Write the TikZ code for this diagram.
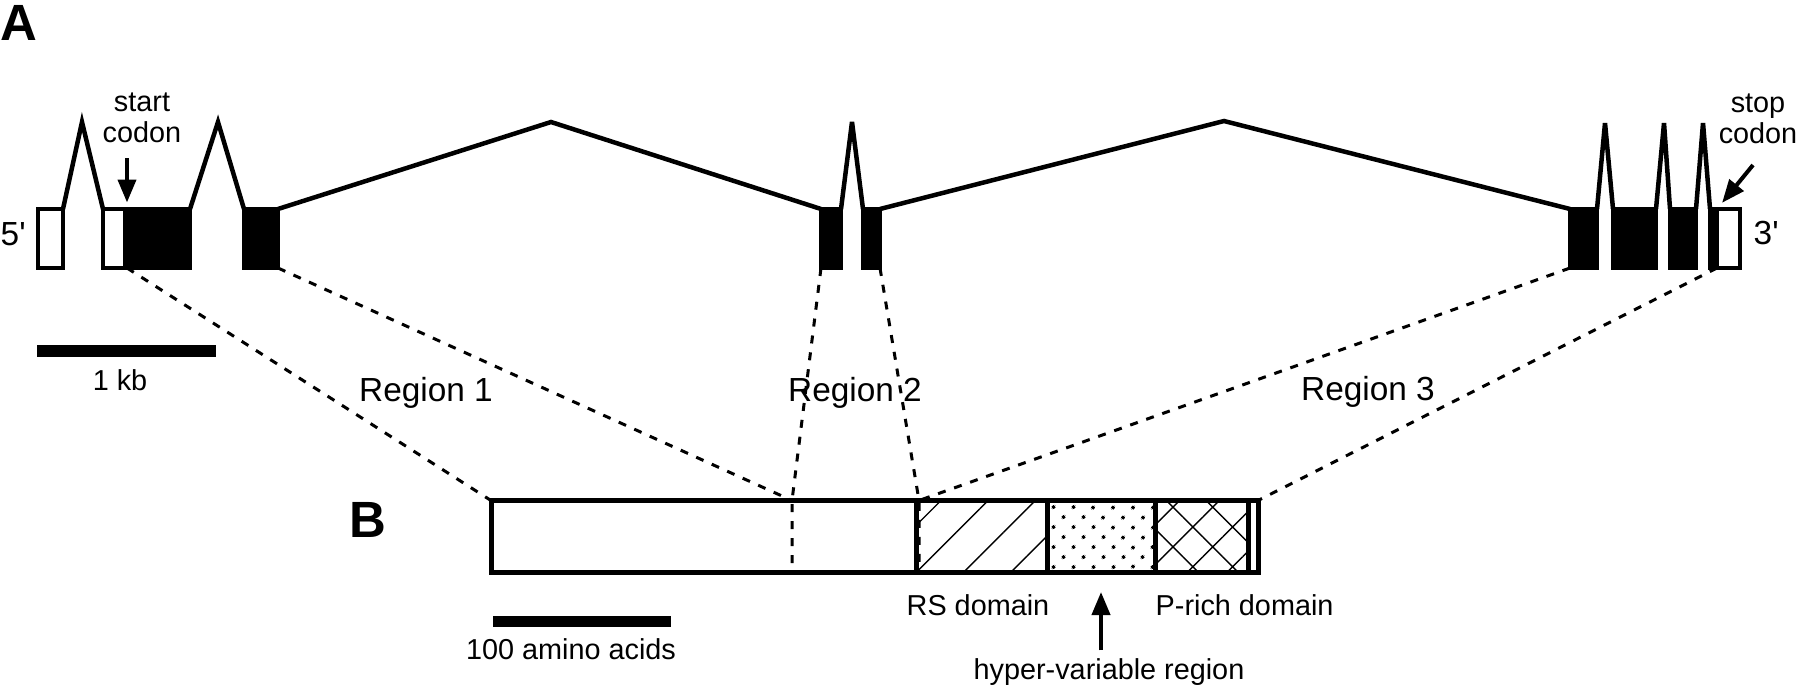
\documentclass[tikz,border=0pt]{standalone}
\usepackage{fontspec}
\setmainfont{Liberation Sans}
\usetikzlibrary{arrows.meta,patterns.meta}

\begin{document}
\begin{tikzpicture}[
  x=0.1mm,y=-0.1mm,
  >={Triangle[length=2.3mm,width=1.8mm]},
  utr/.style={draw,line width=0.4mm,fill=white,minimum height=5.9mm,inner sep=0,outer sep=0},
  cds/.style={utr,fill=black},
  prot/.style={draw,line width=0.5mm,minimum height=7.2mm,inner sep=0,outer sep=0},
  scalebar/.style={fill=black,inner sep=0,outer sep=0},
  intron/.style={line width=0.45mm,line join=miter,miter limit=5},
  region/.style={line width=0.3mm,dash pattern=on 0.8mm off 0.9mm},
  pointer/.style={->,line width=0.4mm},
  note/.style={font=\fontsize{8.2}{8.8}\selectfont,inner sep=0,align=center},
  regionname/.style={font=\fontsize{9.5}{11}\selectfont,inner sep=0},
  panel/.style={font=\fontsize{14.5}{16}\selectfont\bfseries,inner sep=0}
]
\useasboundingbox (0,0) rectangle (1800,686);

% panel A: gene
\node[panel,anchor=base west] (pa) at (0,40) {A};
\node[regionname,anchor=base west] (five) at (0,245) {5\textquotesingle};
\node[regionname,anchor=base west] (three) at (1753,244) {3\textquotesingle};

\node[utr,minimum width=2.5mm] (e1) at (50.5,238.5) {};
\node[utr,minimum width=2.2mm] (e2a) at (114,238.5) {};
\node[cds,minimum width=6.3mm] (e2b) at (158.5,238.5) {};
\node[cds,minimum width=3.4mm] (e3) at (261,238.5) {};
\node[cds,minimum width=2.0mm] (e4) at (831,238.5) {};
\node[cds,minimum width=1.7mm] (e5) at (871.5,238.5) {};
\node[cds,minimum width=2.7mm] (e6) at (1583.5,238.5) {};
\node[cds,minimum width=4.3mm] (e7) at (1634.5,238.5) {};
\node[cds,minimum width=2.6mm] (e8) at (1683,238.5) {};
\node[cds,minimum width=0.5mm] (e9a) at (1712.5,238.5) {};
\node[utr,minimum width=2.3mm] (e9b) at (1728.5,238.5) {};

\coordinate (i1) at (82,122);
\coordinate (i2) at (218,122);
\coordinate (i3) at (551,122);
\coordinate (i4) at (852,122);
\coordinate (i5) at (1224,121);
\coordinate (i6) at (1605,123);
\coordinate (i7) at (1664,123);
\coordinate (i8) at (1703,123);

\draw[intron] (e1.north east) -- (i1) -- (e2a.north west);
\draw[intron] (e2b.north east) -- (i2) -- (e3.north west);
\draw[intron] (e3.north east) -- (i3) -- (e4.north west);
\draw[intron] (e4.north east) -- (i4) -- (e5.north west);
\draw[intron] (e5.north east) -- (i5) -- (e6.north west);
\draw[intron] (e6.north east) -- (i6) -- (e7.north west);
\draw[intron] (e7.north east) -- (i7) -- (e8.north west);
\draw[intron] (e8.north east) -- (i8) -- (e9a.north west);

\node[note,anchor=south] (startlbl) at (142,143) {start\\codon};
\node[note,anchor=south] (stoplbl) at (1758,144) {stop\\codon};
\coordinate (stoptail) at (1753,165);
\draw[pointer,shorten <=1.5mm,shorten >=0.65mm] (startlbl.south -| e2b.north west) -- (e2b.north west);
\draw[pointer,shorten >=0.8mm] (stoptail) -- (e9b.north west);

\node[scalebar,minimum width=17.9mm,minimum height=1.2mm] (kbbar) at (126.5,351) {};
\node[note,anchor=base] (kb) at (120,390) {1 kb};

% panel B: protein
\node[panel,anchor=base west] (pb) at (349,537) {B};
\node[prot,minimum width=42.5mm] (nterm) at (703.5,536.5) {};
\node[prot,minimum width=13.1mm,pattern={Lines[angle=45,distance=9.5pt,line width=0.4pt]}] (rs) at (981.5,536.5) {};
\node[prot,minimum width=10.8mm,pattern={Dots[angle=45,distance=4pt,radius=0.55pt]}] (hv) at (1101,536.5) {};
\node[prot,minimum width=9.3mm,pattern={Hatch[angle=45,distance=8pt,line width=0.4pt]}] (prich) at (1201.5,536.5) {};
\node[prot,minimum width=1mm] (cterm) at (1253,536.5) {};

\node[note,anchor=base] (rslbl) at (978,615) {RS domain};
\node[note,anchor=base west] (prlbl) at (1155,615) {P-rich domain};
\node[note,anchor=base] (hvlbl) at (1109,679) {hyper-variable region};
\draw[pointer,shorten <=0.7mm,shorten >=1.95mm] (hv.south |- hvlbl.north) -- (hv.south);

\node[scalebar,minimum width=17.8mm,minimum height=1.1mm] (aabar) at (582,621.5) {};
\node[note,anchor=base] (aa) at (571,659) {100 amino acids};

% regions
\coordinate (r2a) at (792,500.5);
\coordinate (r2b) at (919,500.5);
\draw[region] (e2b.south west) -- (nterm.north west);
\draw[region] (e3.south east) -- (r2a);
\draw[region] (e4.south west) -- (r2a) -- (r2a |- nterm.south);
\draw[region] (e5.south east) -- (r2b) -- (r2b |- nterm.south);
\draw[region] (e6.south west) -- (r2b);
\draw[region] (e9b.south west) -- (cterm.north east);

\node[regionname,anchor=base] (reg1) at (426,401) {Region 1};
\node[regionname,anchor=base] (reg2) at (855,401) {Region 2};
\node[regionname,anchor=base] (reg3) at (1368,400) {Region 3};
\end{tikzpicture}
\end{document}
